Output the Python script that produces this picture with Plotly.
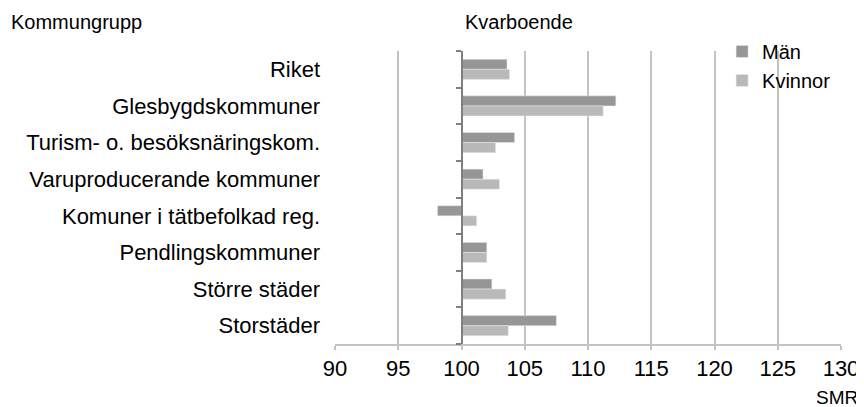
import plotly.graph_objects as go

# Kvarboende, SMR per kommungrupp (index 100 = riket förväntat)
kommungrupper = ['Riket', 'Glesbygdskommuner', 'Turism- o. besöksnäringskom.',
                 'Varuproducerande kommuner', 'Komuner i tätbefolkad reg.',
                 'Pendlingskommuner', 'Större städer', 'Storstäder']
man = [103.6, 112.2, 104.2, 101.7, 98.1, 102.0, 102.4, 107.5]
kvinnor = [103.8, 111.2, 102.7, 103.0, 101.2, 102.0, 103.5, 103.7]
x_ticks = [90, 95, 100, 105, 110, 115, 120, 125, 130]

font = 'Liberation Sans, Arial, sans-serif'
bas = 100

fig = go.Figure()
fig.add_trace(go.Bar(y=kommungrupper, x=[v - bas for v in man], base=bas,
                     orientation='h', name='Män', marker_color='#969696'))
fig.add_trace(go.Bar(y=kommungrupper, x=[v - bas for v in kvinnor], base=bas,
                     orientation='h', name='Kvinnor', marker_color='#b9b9b9'))
# tom trace så att axeln vid 100 ritas
fig.add_trace(go.Scatter(x=[None], y=[None], yaxis='y2', showlegend=False,
                         hoverinfo='skip'))

n = len(kommungrupper)
# sidan har 8px marginal runt diagrammet, därför 856x399
fig.update_layout(
    width=856, height=399,
    margin=dict(l=327, r=23, t=43, b=63),
    paper_bgcolor='white', plot_bgcolor='white',
    font=dict(family=font, color='#000000', size=20),
    barmode='group', bargap=0.45, bargroupgap=0,
    showlegend=True,
    legend=dict(x=0.765, y=1.065, xanchor='left', yanchor='top',
                font=dict(size=20), bgcolor='rgba(0,0,0,0)',
                itemwidth=30, tracegroupgap=0),
    xaxis=dict(range=[90, 130], tickvals=x_ticks, showgrid=True,
               gridcolor='#c3c3c3', gridwidth=2, showline=True,
               linecolor='#c3c3c3', linewidth=2, ticks='outside',
               ticklen=4, tickcolor='#c3c3c3', tickwidth=2,
               zeroline=False, tickfont=dict(size=22),
               ticklabelstandoff=0, automargin=False),
    yaxis=dict(type='category', categoryorder='array', categoryarray=kommungrupper,
               range=[n - 0.5, -0.5], showgrid=False, showline=False,
               ticks='', tickfont=dict(size=22), ticklabelstandoff=14,
               automargin=False),
    yaxis2=dict(overlaying='y', anchor='free', position=0.25,
                range=[n - 0.5, -0.5], tickvals=[i - 0.5 for i in range(n + 1)],
                showticklabels=False, ticks='outside', ticklen=5,
                tickcolor='#7f7f7f', tickwidth=2, showline=True,
                linecolor='#7f7f7f', linewidth=2, showgrid=False,
                zeroline=False, automargin=False),
    annotations=[
        dict(text='Kommungrupp', xref='paper', yref='paper', x=-0.644, y=1.056,
             xanchor='left', yanchor='bottom', showarrow=False,
             font=dict(size=20)),
        dict(text='Kvarboende', xref='paper', yref='paper', x=0.252, y=1.056,
             xanchor='left', yanchor='bottom', showarrow=False,
             font=dict(size=20)),
        dict(text='SMR', xref='paper', yref='paper', x=1.038, y=-0.224,
             xanchor='right', yanchor='bottom', showarrow=False,
             font=dict(size=19)),
    ],
)

fig.write_html('out.html')
